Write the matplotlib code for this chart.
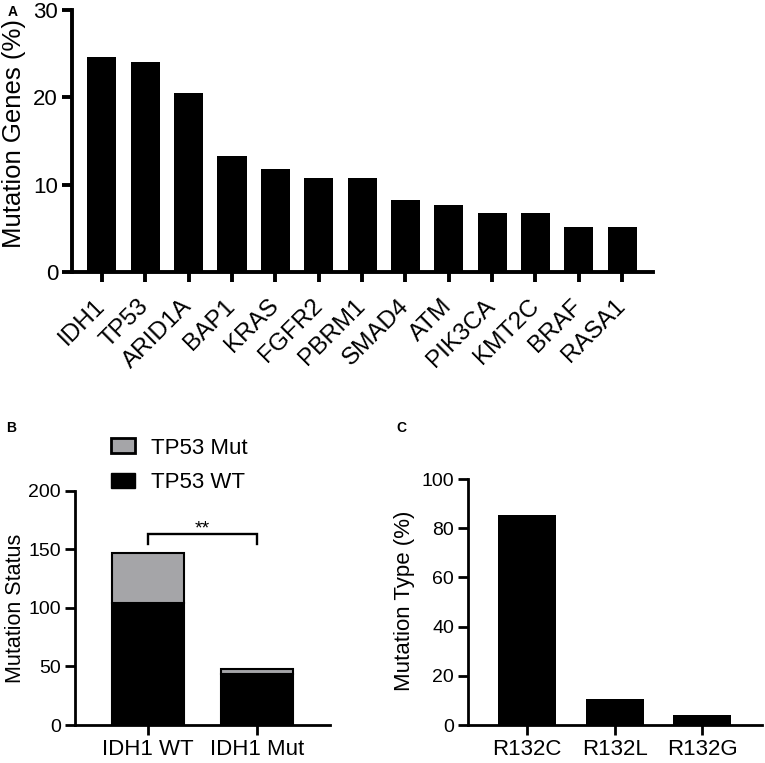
import matplotlib.pyplot as plt
from matplotlib.patches import Patch

plt.rcParams["font.family"] = ["Liberation Sans", "DejaVu Sans"]

# Panel A: most frequently mutated genes
genes = ["IDH1", "TP53", "ARID1A", "BAP1", "KRAS", "FGFR2", "PBRM1",
         "SMAD4", "ATM", "PIK3CA", "KMT2C", "BRAF", "RASA1"]
gene_pct = [24.6, 24.1, 20.5, 13.3, 11.8, 10.8, 10.8, 8.2, 7.7, 6.7, 6.7, 5.1, 5.1]

# Panel B: TP53 status by IDH1 status
idh_groups = ["IDH1 WT", "IDH1 Mut"]
tp53_wt = [104, 44]
tp53_mut = [43, 4]

# Panel C: IDH1 mutation types
mut_types = ["R132C", "R132L", "R132G"]
mut_pct = [85.4, 10.4, 4.2]

gray = "#a5a5a8"


def style_axes(ax, ytick_size, lw):
    for side in ["top", "right"]:
        ax.spines[side].set_visible(False)
    for side in ["left", "bottom"]:
        ax.spines[side].set_linewidth(lw)
    ax.tick_params(axis="both", length=7, width=lw, color="black")
    ax.tick_params(axis="y", labelsize=ytick_size, pad=3)


fig = plt.figure(figsize=(7.65, 7.63), dpi=100)

# ---- A ----
axA = fig.add_axes([0.0941, 0.6435, 0.7595, 0.3434])
xa = range(len(genes))
axA.bar(xa, gene_pct, width=0.67, color="black")
axA.set_xlim(-0.69, len(genes) - 1 + 0.71)
axA.set_ylim(0, 30)
axA.set_yticks([0, 10, 20, 30])
style_axes(axA, 16, 2.8)
axA.set_xticks(list(xa))
axA.set_xticklabels(genes, rotation=45, ha="right", va="center",
                    rotation_mode="anchor", fontsize=17.5)
axA.tick_params(axis="x", pad=15)
axA.set_ylabel("Mutation Genes (%)", fontsize=18.5)
axA.yaxis.set_label_coords(-0.08, 0.53)

# ---- B ----
axB = fig.add_axes([0.098, 0.0498, 0.3333, 0.3067])
xb = range(len(idh_groups))
axB.bar(xb, tp53_wt, width=0.66, color="black", edgecolor="black", linewidth=1.5)
axB.bar(xb, tp53_mut, width=0.66, bottom=tp53_wt, color=gray,
        edgecolor="black", linewidth=1.5)
axB.set_xlim(-0.67, 1.67)
axB.set_ylim(0, 200)
axB.set_yticks([0, 50, 100, 150, 200])
style_axes(axB, 14, 2.0)
axB.set_xticks(list(xb))
axB.set_xticklabels(idh_groups, fontsize=16)
axB.tick_params(axis="x", pad=3)
axB.set_ylabel("Mutation Status", fontsize=15.5)
axB.yaxis.set_label_coords(-0.194, 0.5)

# significance bracket
axB.plot([0, 0, 1, 1], [155, 163, 163, 155], color="black", lw=1.7,
         solid_joinstyle="miter", clip_on=False)
axB.text(0.5, 164, "**", ha="center", va="baseline", fontsize=14)

handles = [Patch(facecolor=gray, edgecolor="black", linewidth=2, label="TP53 Mut"),
           Patch(facecolor="black", edgecolor="black", label="TP53 WT")]
axB.legend(handles=handles, loc="upper left", bbox_to_anchor=(0.141, 1.228),
           frameon=False, fontsize=16, handlelength=1.1, handleheight=0.68,
           handletextpad=0.7, labelspacing=0.6, borderpad=0, borderaxespad=0)

# ---- C ----
axC = fig.add_axes([0.6118, 0.0498, 0.3843, 0.3224])
xc = range(len(mut_types))
axC.bar(xc, mut_pct, width=0.66, color="black")
axC.set_xlim(-0.67, 2.68)
axC.set_ylim(0, 100)
axC.set_yticks([0, 20, 40, 60, 80, 100])
style_axes(axC, 14, 2.0)
axC.set_xticks(list(xc))
axC.set_xticklabels(mut_types, fontsize=16)
axC.tick_params(axis="x", pad=3)
axC.set_ylabel("Mutation Type (%)", fontsize=16)
axC.yaxis.set_label_coords(-0.18, 0.506)

# panel letters
fig.text(12.5 / 765, 1 - 11.5 / 763, "A", fontsize=10, fontweight="bold",
         ha="center", va="center")
fig.text(11.5 / 765, 1 - 427.5 / 763, "B", fontsize=10, fontweight="bold",
         ha="center", va="center")
fig.text(401.5 / 765, 1 - 427.5 / 763, "C", fontsize=10, fontweight="bold",
         ha="center", va="center")

fig.savefig("out.png", dpi=100)
